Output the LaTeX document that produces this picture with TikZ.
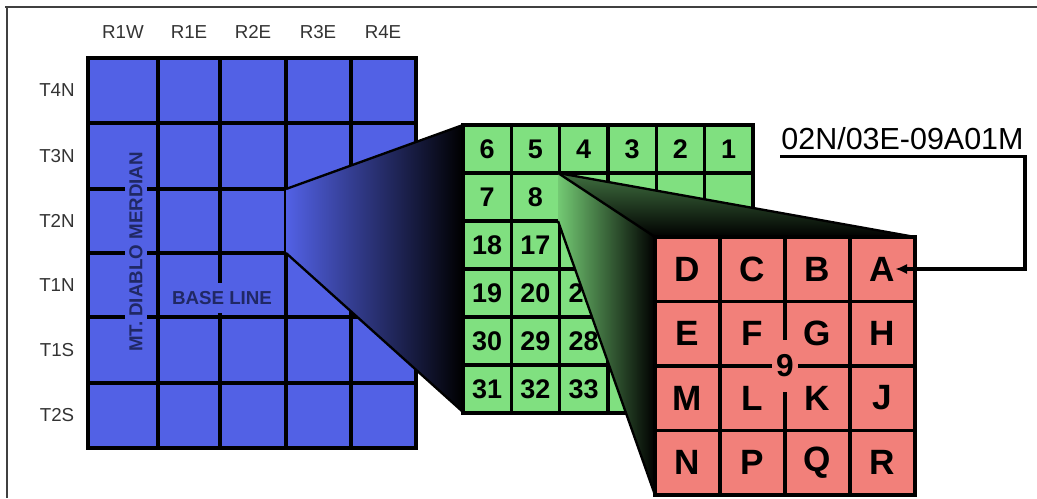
\documentclass[tikz,border=0pt]{standalone}
\usepackage{fontspec}
\setmainfont{Liberation Sans}
\usetikzlibrary{arrows.meta, positioning}

\definecolor{townblue}{RGB}{82,97,229}
\definecolor{sectiongreen}{RGB}{128,224,128}
\definecolor{parcelred}{RGB}{242,128,122}
\definecolor{navytext}{RGB}{32,40,100}

\begin{document}
\begin{tikzpicture}[
  x=0.03cm, y=-0.03cm,
  gridline/.style={line width=2.8pt},
  gridframe/.style={line width=3.4pt},
  edge/.style={line width=2pt},
  axislabel/.style={font=\fontsize{16}{16}\selectfont, text=black!80},
  sectionnum/.style={font=\fontsize{23}{23}\selectfont\bfseries},
  parcel/.style={font=\fontsize{30}{30}\selectfont\bfseries, inner sep=0pt},
  mapnote/.style={font=\fontsize{16}{16}\selectfont\bfseries, text=navytext, fill=townblue},
  leader/.style={-{Latex[length=10pt, width=9pt]}, line width=3pt}
]
\useasboundingbox (0,0) rectangle (1037,498);

% page frame
\draw[line width=1.4pt, black!75] (5,7) -- (1037,7);
\draw[line width=1.4pt, black!75] (7,7) -- (7,498);

% townships
\fill[townblue] (88,58) rectangle (416,448);
\foreach \x in {158,220,286,351}
  \draw[gridline] (\x,58) -- (\x,448);
\foreach \y in {123,189,253,317,383}
  \draw[gridline] (88,\y) -- (416,\y);
\draw[gridframe] (88,58) rectangle (416,448);
\node[mapnote, rotate=90, inner xsep=2pt, inner ysep=4pt] (meridian) at (136,252) {MT.\ DIABLO MERDIAN};
\node[mapnote, inner xsep=2pt, inner ysep=7pt] (baseline) at (222,298) {BASE LINE};

\foreach \name/\x in {R1W/123, R1E/189, R2E/253, R3E/318, R4E/383}
  \node[axislabel] (range-\name) at (\x,32) {\name};
\foreach \name/\y in {T4N/90, T3N/156, T2N/221, T1N/285, T1S/350, T2S/415}
  \node[axislabel] (town-\name) at (57,\y) {\name};

% zoom into T2N R3E
\shade[left color=townblue, right color=black] (286,189) -- (463,125) -- (463,412) -- (286,253) -- cycle;
\draw[edge] (286,189) -- (463,125);
\draw[edge] (286,253) -- (463,412);

% sections
\fill[sectiongreen] (463,125) rectangle (753,413);
\foreach \i in {1,...,5} {
  \draw[gridline] ({463+48.33*\i},125) -- ({463+48.33*\i},413);
  \draw[gridline] (463,{125+48*\i}) -- (753,{125+48*\i});
}
\draw[gridframe] (463,125) rectangle (753,413);
\foreach \num/\c/\r in {6/0/0, 5/1/0, 4/2/0, 3/3/0, 2/4/0, 1/5/0, 7/0/1, 8/1/1,
    18/0/2, 17/1/2, 19/0/3, 20/1/3, 21/2/3, 30/0/4, 29/1/4, 28/2/4, 31/0/5, 32/1/5, 33/2/5}
  \node[sectionnum] (sec-\num) at ({487+48.33*\c},{149+48*\r}) {\num};

% zoom into section 9
\shade[top color=sectiongreen!50!black, bottom color=black] (558,173) -- (915,237) -- (655,237) -- cycle;
\shade[left color=sectiongreen!90!black, right color=black] (558,173) -- (655,237) -- (655,495) -- (558,221) -- cycle;
\draw[edge] (558,173) -- (915,237);
\draw[edge] (558,173) -- (655,237);
\draw[edge] (558,221) -- (655,495);

% quarter-quarter parcels
\fill[parcelred] (655,237) rectangle (915,495);
\foreach \i in {1,2,3} {
  \draw[gridline] ({655+65*\i},237) -- ({655+65*\i},495);
  \draw[gridline] (655,{237+64.5*\i}) -- (915,{237+64.5*\i});
}
\draw[gridframe] (655,237) rectangle (915,495);
\node[parcel, fill=parcelred, font=\fontsize{27}{27}\selectfont\bfseries,
  minimum width=22pt, minimum height=45pt] (sec9) at (785,366) {9};
\foreach \ch [count=\k from 0] in {D,C,B,A,E,F,G,H,M,L,K,J,N,P,Q,R} {
  \pgfmathtruncatemacro\c{mod(\k,4)}
  \pgfmathtruncatemacro\r{int(\k/4)}
  \node[parcel] (qq-\ch) at ({687.5+65*\c},{269+64.5*\r}) {\ch};
}

% parcel code
\node[font=\fontsize{26}{26}\selectfont, anchor=base west, inner xsep=1pt, inner ysep=6pt,
  text depth=0pt] (code) at (780,149) {02N/03E-09A01M};
\draw[leader] (code.south west) -- (code.south east) |- (qq-A.east);
\end{tikzpicture}
\end{document}
